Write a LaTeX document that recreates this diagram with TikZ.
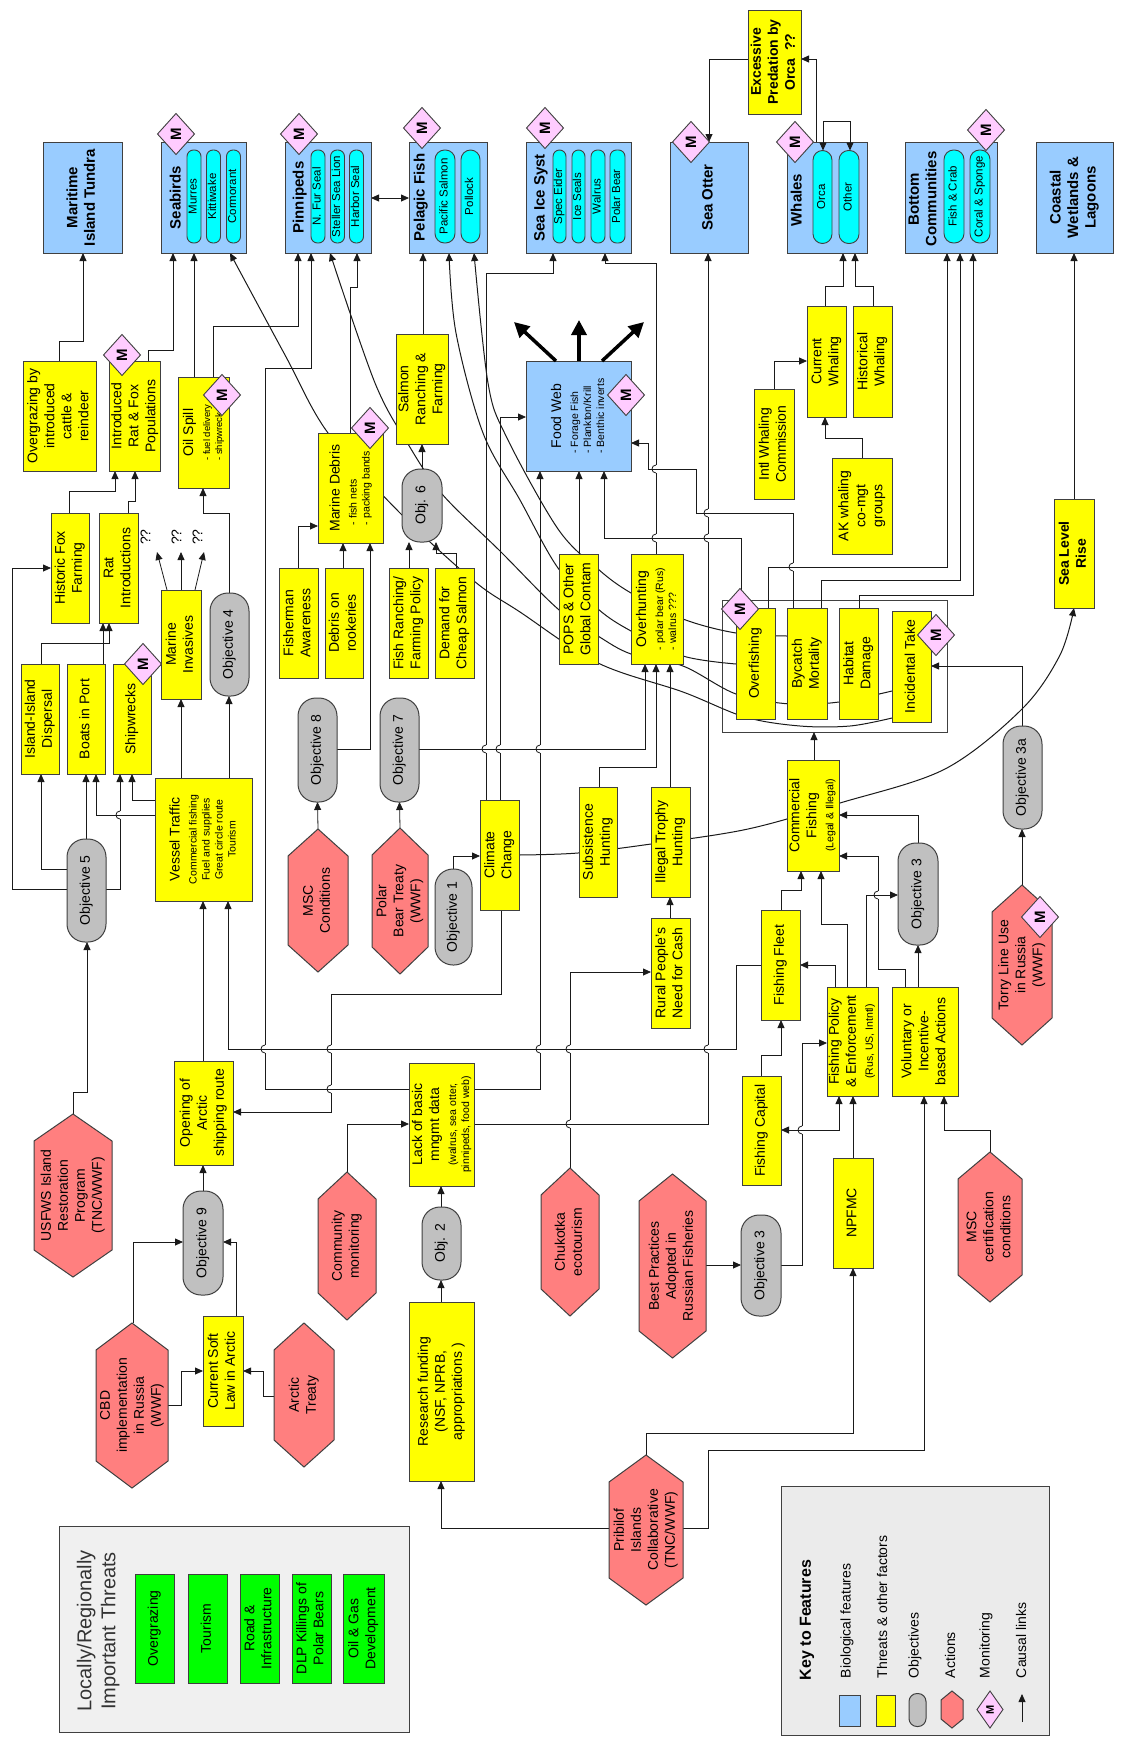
\documentclass[tikz,border=0pt]{standalone}
\usepackage{fontspec}
\usepackage{graphicx}
\setmainfont{Liberation Sans}
\usetikzlibrary{arrows.meta,backgrounds}

\definecolor{biof}{HTML}{99CCFF}
\definecolor{thrf}{HTML}{FFFF00}
\definecolor{objf}{HTML}{C0C0C0}
\definecolor{actf}{HTML}{FF7F7F}
\definecolor{monf}{HTML}{FFCCFF}
\definecolor{spf}{HTML}{00FFFF}
\definecolor{locf}{HTML}{00FF00}
\definecolor{edge}{HTML}{404040}
\definecolor{wire}{HTML}{1A1A1A}
\definecolor{panelA}{HTML}{F0F0F0}
\definecolor{panelB}{HTML}{EBEBEB}

\newcommand\ftx{\fontsize{14}{17}\selectfont}
\newcommand\fpl{\fontsize{11.5}{13}\selectfont}
\newcommand\fsml{\fontsize{10.5}{13}\selectfont}
\newcommand\fxs{\fontsize{9.5}{12}\selectfont}
\newcommand\fbld{\bfseries\fontsize{15}{17.5}\selectfont}
\newcommand\fmon{\bfseries\fontsize{15}{15}\selectfont}

% text turned a quarter turn anticlockwise
\newcommand\rt[1]{\rotatebox{90}{\begin{tabular}{@{}c@{}}#1\end{tabular}}}
% title line followed by a smaller left-aligned list
\newcommand\rtl[2]{\rotatebox{90}{\begin{tabular}{@{}c@{}}#1\\{\fsml\begin{tabular}[t]{@{}l@{}}#2\end{tabular}}\end{tabular}}}
% the same with a still smaller list
\newcommand\rtls[2]{\rotatebox{90}{\begin{tabular}{@{}c@{}}#1\\{\fxs\begin{tabular}[t]{@{}l@{}}#2\end{tabular}}\end{tabular}}}
% title followed by smaller centred lines
\newcommand\rtc[2]{\rotatebox{90}{\begin{tabular}{@{}c@{}}#1\\{\fsml\begin{tabular}[t]{@{}c@{}}#2\end{tabular}}\end{tabular}}}

% hop of a vertical wire over a horizontal one at (#1,#2)
\newcommand\hop[2]{%
  \fill[white] ({#1-1.5},{#2-4}) rectangle ({#1+1.5},{#2+4});
  \draw[wirel] ({#1-2},#2) -- ({#1+2},#2);
  \draw[wirel] (#1,{#2+4}) .. controls ({#1-5.3},{#2+4}) and ({#1-5.3},{#2-4}) .. (#1,{#2-4});}

% action hexagon: name, x, y, width, height, point depth, text
\newcommand\hexnode[7]{%
  \filldraw[hexdraw] ({#2-#4/2},{#3-#5/2+#6}) -- (#2,{#3-#5/2}) -- ({#2+#4/2},{#3-#5/2+#6})
     -- ({#2+#4/2},{#3+#5/2-#6}) -- (#2,{#3+#5/2}) -- ({#2-#4/2},{#3+#5/2-#6}) -- cycle;
  \node[font=\ftx,minimum width=#4,minimum height=#5] (#1) at (#2,#3) {#7};}

% monitoring diamond: name, x, y, half width, half height
\newcommand\mdia[5]{%
  \filldraw[mdraw] (#2,{#3-#5}) -- ({#2+#4},#3) -- (#2,{#3+#5}) -- ({#2-#4},#3) -- cycle;
  \node[font=\fmon] (#1) at (#2,#3) {\rotatebox{90}{M}};}

\begin{document}
\begin{tikzpicture}[x=1pt,y=-1pt,
  every node/.style={inner sep=0pt,outer sep=0pt},
  box/.style={draw=edge,line width=1pt,font=\ftx},
  bio/.style={box,fill=biof},
  thr/.style={box,fill=thrf},
  obj/.style={box,fill=objf,rounded corners=18pt},
  grn/.style={box,fill=locf},
  pill/.style={draw=edge,line width=0.9pt,fill=spf,font=\fpl,rounded corners=6.5pt},
  wpill/.style={pill,rounded corners=9.5pt},
  sz/.style 2 args={minimum width=#1,minimum height=#2},
  hexdraw/.style={draw=edge,line width=1pt,fill=actf},
  mdraw/.style={draw=edge,line width=0.9pt,fill=monf},
  wirel/.style={draw=wire,line width=0.8pt},
  arr/.style={wirel,-{Triangle[length=8pt,width=7pt]}},
  curv/.style={arr,line width=1pt},
  darr/.style={wirel,{Triangle[length=8pt,width=7pt]}-{Triangle[length=8pt,width=7pt]}},
  fat/.style={draw=black,line width=3.5pt,-{Triangle[length=15pt,width=15pt]}},
]
\useasboundingbox (0,0) rectangle (1120,1743);

\begin{scope}[on background layer]
  \fill[white] (0,0) rectangle (1120,1743);
  % frame round the fishing threats
  \node[draw=edge,line width=1pt,sz={225}{132}] (cl) at (834.5,666) {};
\end{scope}

%---------------- biological features ----------------
\node[bio,font=\fbld,sz={79}{111}] (mit) at (82.5,197.5) {\rt{Maritime\\Island Tundra}};

\node[bio,sz={85}{111}] (seab) at (203.5,197.5) {};
\node[font=\fbld] (seabt) at (177,197.5) {\rt{Seabirds}};
\node[pill,sz={14}{93}] (murr) at (194,196.5) {\rt{Murres}};
\node[pill,sz={14}{93}] (kitt) at (213.5,196.5) {\rt{Kittiwake}};
\node[pill,sz={14}{93}] (corm) at (233.5,196.5) {\rt{Cormorant}};

\node[bio,sz={86}{111}] (pinn) at (328,197.5) {};
\node[font=\fbld] (pinnt) at (300,197.5) {\rt{Pinnipeds}};
\node[pill,sz={14}{93}] (nfs) at (318,196.5) {\rt{N. Fur Seal}};
\node[pill,sz={14}{93}] (ssl) at (337.5,196.5) {\rt{Steller Sea Lion}};
\node[pill,sz={14}{93}] (hbs) at (356.5,196.5) {\rt{Harbor Seal}};

\node[bio,sz={78}{111}] (pel) at (448,197.5) {};
\node[font=\fbld] (pelt) at (421,197.5) {\rt{Pelagic Fish}};
\node[wpill,sz={20}{93}] (psal) at (445,196.5) {\rt{Pacific Salmon}};
\node[wpill,sz={19}{93}] (poll) at (470.5,196.5) {\rt{Pollock}};

\node[bio,sz={105}{111}] (sice) at (578.5,197.5) {};
\node[font=\fbld] (sicet) at (541,198) {\rt{Sea Ice Syst}};
\node[pill,sz={13}{93}] (eid) at (559.5,196.5) {\rt{Spec Eider}};
\node[pill,sz={13}{93}] (ices) at (578.5,196.5) {\rt{Ice Seals}};
\node[pill,sz={14}{93}] (walr) at (598,196.5) {\rt{Walrus}};
\node[pill,sz={15}{93}] (pbear) at (617.5,196.5) {\rt{Polar Bear}};

\node[bio,font=\fbld,sz={78}{111}] (sot) at (709,197.5) {\rt{Sea Otter}};

\node[bio,sz={80}{111}] (wh) at (827,197.5) {};
\node[font=\fbld] (wht) at (798,200) {\rt{Whales}};
\node[wpill,sz={19}{93}] (orca) at (822.5,197) {\rt{Orca}};
\node[wpill,sz={20}{93}] (other) at (849,197) {\rt{Other}};

\node[bio,sz={92}{111}] (bc) at (951,197.5) {};
\node[font=\fbld] (bct) at (924,199) {\rt{Bottom\\Communities}};
\node[wpill,sz={20}{93}] (fcrab) at (954,196.5) {\rt{Fish \& Crab}};
\node[wpill,sz={20}{93}] (coral) at (980,196.5) {\rt{Coral \& Sponge}};

\node[bio,font=\fbld,sz={77}{111}] (coast) at (1074.5,197.5) {\rt{Coastal\\Wetlands \&\\Lagoons}};

\node[bio,sz={105}{110}] (fw) at (578.5,416) {\rtl{Food Web}{- Forage Fish\\- Plankton/Krill\\- Benthic inverts}};

%---------------- threats and other factors ----------------
\node[thr,font=\bfseries\ftx,sz={53}{104}] (exc) at (774.5,62) {\rt{Excessive\\Predation by\\Orca\ \ ??}};
\node[thr,sz={73}{110}] (ovg) at (59.5,416) {\rt{Overgrazing by\\introduced\\cattle \&\\reindeer}};
\node[thr,sz={50}{110}] (ratfox) at (135,416) {\rt{Introduced\\Rat \& Fox\\Populations}};
\node[thr,sz={51}{111}] (oil) at (203.5,432.5) {\rtls{Oil Spill}{- fuel delivery\\- shipwreck}};
\node[thr,sz={38}{110}] (hfox) at (70,568) {\rt{Historic Fox\\Farming}};
\node[thr,sz={39}{110}] (rint) at (118.5,568) {\rt{Rat\\Introductions}};
\node[thr,sz={38}{110}] (isl) at (40,719) {\rt{Island-Island\\Dispersal}};
\node[thr,sz={38}{110}] (boat) at (86,719) {\rt{Boats in Port}};
\node[thr,sz={38}{110}] (ship) at (132,719) {\rt{Shipwrecks}};
\node[thr,sz={40}{109}] (inv) at (181,644.5) {\rt{Marine\\Invasives}};
\node[thr,sz={97}{123}] (ves) at (203.5,839.5) {\rtc{Vessel Traffic}{Commercial fishing\\Fuel and supplies\\Great circle route\\Tourism}};
\node[thr,sz={39}{110}] (fsh) at (298.5,623) {\rt{Fisherman\\Awareness}};
\node[thr,sz={38}{110}] (rook) at (344,623) {\rt{Debris on\\rookeries}};
\node[thr,sz={65}{110}] (md) at (350.5,488) {\rtl{Marine Debris}{- fish nets\\- packing bands}};
\node[thr,sz={52}{110}] (salm) at (422,389) {\rt{Salmon\\Ranching \&\\Farming}};
\node[thr,sz={39}{110}] (frp) at (408.5,623) {\rt{Fish Ranching/\\Farming Policy}};
\node[thr,sz={39}{110}] (dem) at (454.5,623) {\rt{Demand for\\Cheap Salmon}};
\node[thr,sz={39}{110}] (pops) at (578.5,609) {\rt{POPS \& Other\\Global Contam}};
\node[thr,sz={52}{110}] (ovh) at (657,609) {\rtl{Overhunting}{- polar bear (Rus)\\- walrus ???}};
\node[thr,sz={39}{110}] (clim) at (499.5,855) {\rt{Climate\\Change}};
\node[thr,sz={38}{110}] (sub) at (598,842) {\rt{Subsistence\\Hunting}};
\node[thr,sz={39}{110}] (ill) at (670.5,842) {\rt{Illegal Trophy\\Hunting}};
\node[thr,sz={39}{110}] (rur) at (670.5,973) {\rt{Rural People's\\Need for Cash}};
\node[thr,sz={39}{111}] (ovf) at (755.5,663.5) {\rt{Overfishing}};
\node[thr,sz={40}{111}] (byc) at (807,663.5) {\rt{Bycatch\\Mortality}};
\node[thr,sz={39}{111}] (hab) at (858.5,663.5) {\rt{Habitat\\Damage}};
\node[thr,sz={39}{111}] (inc) at (911.5,666.5) {\rt{Incidental Take}};
\node[thr,sz={52}{111}] (cf) at (813,815.5) {\rtc{Commercial\\Fishing}{(Legal \& Illegal)}};
\node[thr,sz={39}{110}] (flt) at (780.5,965) {\rt{Fishing Fleet}};
\node[thr,sz={39}{109}] (cap) at (761.5,1130.5) {\rt{Fishing Capital}};
\node[thr,sz={51}{109}] (fpo) at (852.5,1041.5) {\rtc{Fishing Policy\\\& Enforcement}{(Rus, US, Intntl)}};
\node[thr,sz={66}{109}] (vol) at (925,1041.5) {\rt{Voluntary or\\Incentive-\\based Actions}};
\node[thr,sz={40}{110}] (npf) at (853,1213) {\rt{NPFMC}};
\node[thr,sz={40}{110}] (iwc) at (774,444) {\rt{Intl Whaling\\Commission}};
\node[thr,sz={39}{111}] (curw) at (826.5,361.5) {\rt{Current\\Whaling}};
\node[thr,sz={39}{111}] (hisw) at (872.5,361.5) {\rt{Historical\\Whaling}};
\node[thr,sz={60}{96}] (akw) at (862,506) {\rt{AK whaling\\co-mgt\\groups}};
\node[thr,font=\bfseries\ftx,sz={40}{109}] (slr) at (1074,553.5) {\rt{Sea Level\\Rise}};
\node[thr,sz={59}{104}] (opn) at (203.5,1113) {\rt{Opening of\\Arctic\\shipping route}};
\node[thr,sz={65}{123}] (lack) at (441.5,1124.5) {\rtc{Lack of basic\\mngmt data}{(walrus, sea otter,\\pinnipeds, food web)}};
\node[thr,sz={65}{179}] (res) at (441.5,1391.5) {\rt{Research funding\\(NSF, NPRB,\\appropriations )}};
\node[thr,sz={40}{110}] (sft) at (223,1371) {\rt{Current Soft\\Law in Arctic}};

%---------------- objectives ----------------
\node[obj,sz={39}{103}] (ob5) at (86.5,890.5) {\rt{Objective 5}};
\node[obj,sz={39}{103}] (ob4) at (229.5,644.5) {\rt{Objective 4}};
\node[obj,sz={39}{104}] (ob8) at (317.5,750) {\rt{Objective 8}};
\node[obj,sz={40}{73}] (ob6) at (422,505.5) {\rt{Obj. 6}};
\node[obj,sz={39}{104}] (ob7) at (399.5,750) {\rt{Objective 7}};
\node[obj,sz={37}{96}] (ob1) at (453.5,917) {\rt{Objective 1}};
\node[obj,sz={40}{104}] (ob9) at (203,1243) {\rt{Objective 9}};
\node[obj,sz={39}{73}] (ob2) at (441.5,1243.5) {\rt{Obj. 2}};
\node[obj,sz={40}{101}] (ob3b) at (761,1265.5) {\rt{Objective 3}};
\node[obj,sz={40}{102}] (ob3a) at (918,894) {\rt{Objective 3}};
\node[obj,sz={39}{103}] (ob3x) at (1022.5,777.5) {\rt{Objective 3a}};

%---------------- actions ----------------
\hexnode{msc}{318}{900.5}{60}{143}{27}{\rt{MSC\\Conditions}}
\hexnode{pbt}{400}{901}{56}{146}{27}{\rt{Polar\\Bear Treaty\\(WWF)}}
\hexnode{usf}{73}{1195.5}{78}{163}{27}{\rt{USFWS Island\\Restoration\\Program\\(TNC/WWF)}}
\hexnode{com}{347}{1246}{58}{148}{27}{\rt{Community\\monitoring}}
\hexnode{chu}{570}{1242}{58}{148}{27}{\rt{Chukotka\\ecotourism}}
\hexnode{bpr}{672.5}{1266}{67}{184}{27}{\rt{Best Practices\\Adopted in\\Russian Fisheries}}
\hexnode{cbd}{132}{1405.5}{72}{165}{27}{\rt{CBD\\implementation\\in Russia\\(WWF)}}
\hexnode{arc}{304}{1395}{60}{144}{27}{\rt{Arctic\\Treaty}}
\hexnode{pri}{646}{1530}{74}{150}{27}{\rt{Pribilof\\Islands\\Collaborative\\(TNC/WWF)}}
\hexnode{msccert}{990}{1227}{64}{150}{27}{\rt{MSC\\certification\\conditions}}
\hexnode{tor}{1022}{965}{60}{160}{27}{\rt{Torry Line Use\\in Russia\\(WWF)}}

%---------------- monitoring marks ----------------
\mdia{m1}{176}{134}{18.5}{20.5}
\mdia{m2}{299}{134}{18.5}{20.5}
\mdia{m3}{422}{128}{18.5}{20.5}
\mdia{m4}{545}{128}{18.5}{20.5}
\mdia{m5}{691}{142}{18.5}{20.5}
\mdia{m6}{795}{142}{18.5}{20.5}
\mdia{m7}{986}{130}{18.5}{20.5}
\mdia{m8}{122}{355}{18.5}{20.5}
\mdia{m9}{222}{395}{18.5}{20.5}
\mdia{m10}{370}{428}{18.5}{20.5}
\mdia{m11}{626}{395}{18.5}{20.5}
\mdia{m12}{143}{664}{18.5}{20.5}
\mdia{m13}{740}{609}{18.5}{20.5}
\mdia{m14}{936}{635}{18.5}{20.5}
\mdia{m15}{1040}{917}{18.5}{20.5}

%---------------- unknown invasive effects ----------------
\coordinate (q1) at (157,552);
\coordinate (q2) at (181,552);
\coordinate (q3) at (204,552);
\node[font=\ftx] (qq1) at (147,537) {\rt{??}};
\node[font=\ftx] (qq2) at (178,537) {\rt{??}};
\node[font=\ftx] (qq3) at (199,537) {\rt{??}};

%---------------- food web outflow ----------------
\coordinate (fwa) at (514,322);
\coordinate (fwb) at (579,320);
\coordinate (fwc) at (644,322);
\draw[fat] (fw.north -| 556,0) -- (fwa);
\draw[fat] (fw.north -| 579,0) -- (fwb);
\draw[fat] (fw.north -| 602,0) -- (fwc);

% orca and other whales
\draw[darr] (orca.north -| 823,0) |- (850,121) -- (other.north -| 850,0);

%---------------- panel of local threats ----------------
\node[draw=edge,line width=1pt,fill=panelA,sz={350}{206}] (pnlA) at (234,1629) {};
\node[font=\fontsize{20}{24}\selectfont,text=black!80] (pnlAt) at (98.5,1631) {\rt{Locally/Regionally\\Important Threats}};
\node[grn,sz={39}{109}] (g1) at (154.5,1628.5) {\rt{Overgrazing}};
\node[grn,sz={39}{109}] (g2) at (207.5,1628.5) {\rt{Tourism}};
\node[grn,sz={39}{109}] (g3) at (259.5,1628.5) {\rt{Road \&\\Infrastructure}};
\node[grn,sz={39}{109}] (g4) at (311.5,1628.5) {\rt{DLP Killings of\\Polar Bears}};
\node[grn,sz={41}{109}] (g5) at (363.5,1628.5) {\rt{Oil \& Gas\\Development}};

%---------------- key ----------------
\node[draw=edge,line width=1pt,fill=panelB,sz={268}{249}] (pnlB) at (915,1610.5) {};
\node[font=\bfseries\fontsize{16}{16}\selectfont,anchor=south] (keyt) at (807,1680) {\rotatebox{90}{Key to Features}};
\node[bio,sz={21}{31}] (kb) at (849.5,1710.5) {};
\node[font=\ftx,anchor=south] (kbt) at (847,1678) {\rotatebox{90}{Biological features}};
\node[thr,sz={19}{31}] (ky) at (885.5,1710.5) {};
\node[font=\ftx,anchor=south] (kyt) at (882,1678) {\rotatebox{90}{Threats \& other factors}};
\node[obj,rounded corners=8pt,sz={17}{33}] (ko) at (917.5,1710) {};
\node[font=\ftx,anchor=south] (kot) at (915,1678) {\rotatebox{90}{Objectives}};
\hexnode{ka}{952}{1709.5}{22}{37}{9}{}
\node[font=\ftx,anchor=south] (kat) at (950,1678) {\rotatebox{90}{Actions}};
\filldraw[mdraw] (990,1691) -- (1003,1709.5) -- (990,1728) -- (977,1709.5) -- cycle;
\node[font=\bfseries\fontsize{11}{11}\selectfont] (km) at (990,1709.5) {\rotatebox{90}{M}};
\node[font=\ftx,anchor=south] (kmt) at (986,1678) {\rotatebox{90}{Monitoring}};
\coordinate (kl1) at (1022,1722);
\coordinate (kl2) at (1022,1694);
\draw[arr] (kl1) -- (kl2);
\node[font=\ftx,anchor=south] (klt) at (1021,1678) {\rotatebox{90}{Causal links}};

%---------------- causal links ----------------
\begin{scope}[on background layer]
% tundra, seabirds, pinnipeds
\draw[arr] (ovg.north -| 59,0) |- (83,341) -- (mit.south -| 83,0);
\draw[arr] (ratfox.north -| 148,0) |- (173,350) -- (seab.south -| 173,0);
\draw[arr] (oil.north -| 194,0) -- (seab.south -| 194,0);
\draw[arr] (oil.north -| 213,0) |- (298,326) -- (pinn.south -| 298,0);
\draw[arr] (lack.west |- 0,1089) -| (265,368) -| (pinn.south -| 311,0);
\draw[arr] (md.north -| 350,0) |- (357,287) -- (pinn.south -| 357,0);
\draw[darr] (pinn.east |- 0,198) -- (pel.west |- 0,198);
\draw[arr] (salm.north -| 423,0) -- (pel.south -| 423,0);
% climate, sea ice, sea otter, whales
\draw[arr] (clim.north -| 486,0) |- (553,273) -- (sice.south -| 553,0);
\draw[arr] (clim.north -| 500,0) |- (fw.west |- 0,417);
\draw[arr] (ovh.north -| 656,0) |- (605,263) -- (sice.south -| 605,0);
\draw[arr] (lack.east |- 0,1124) -| (sot.south -| 708,0);
\draw[arr] (exc.west |- 0,59) -| (sot.north -| 709,0);
\draw[arr] (wh.north -| 816,0) |- (exc.east |- 0,59);
\draw[arr] (curw.north -| 825,0) |- (843,286) -- (wh.south -| 843,0);
\draw[arr] (hisw.north -| 873,0) |- (855,286) -- (wh.south -| 855,0);
\draw[arr] (iwc.north -| 774,0) |- (curw.west |- 0,361);
\draw[arr] (akw.north -| 862,0) |- (825,438) -- (curw.south -| 825,0);
% bottom communities and coast
\draw[arr] (ovf.north -| 768,0) |- (947,567) -- (bc.south -| 947,0);
\draw[arr] (byc.north -| 821,0) |- (960,580) -- (bc.south -| 960,0);
\draw[arr] (hab.north -| 859,0) |- (973,595) -- (bc.south -| 973,0);
\draw[arr] (slr.north -| 1074,0) -- (coast.south -| 1074,0);
% food web
\draw[arr] (byc.north -| 793,0) |- (696,513) |- (648,469) |- (fw.east |- 0,443);
\draw[arr] (cl.north -| 741,0) |- (604,538) -- (fw.south -| 604,0);
\draw[arr] (pops.north -| 579,0) -- (fw.south -| 579,0);
\draw[arr] (lack.east |- 0,1089) -| (fw.south -| 540,0);
% introduced species and shipping
\draw[arr] (hfox.north -| 69,0) |- (115,491) -- (ratfox.south -| 115,0);
\draw[arr] (rint.north -| 128,0) |- (135,501) -- (ratfox.south -| 135,0);
\draw[arr] (ob4.north -| 229,0) |- (203,513) -- (oil.south -| 203,0);
\draw[arr] (ves.north -| 229,0) -- (ob4.south -| 229,0);
\draw[arr] (ves.north -| 181,0) -- (inv.south -| 181,0);
\draw[arr] (inv.north -| 167,0) -- (q1);
\draw[arr] (inv.north -| 181,0) -- (q2);
\draw[arr] (inv.north -| 195,0) -- (q3);
\draw[arr] (ves.west |- 0,800) -| (ship.south -| 132,0);
\draw[arr] (ves.west |- 0,815) -| (boat.south -| 96,0);
\draw[arr] (ob5.north -| 86,0) -- (boat.south -| 86,0);
\draw[arr] (ob5.east |- 0,889) -| (ship.south -| 120,0);
\draw[arr] (ob5.west |- 0,869) -| (isl.south -| 41,0);
\draw[arr] (ob5.west |- 0,889) -| (12,568) -- (hfox.west |- 0,568);
\draw[arr] (isl.north -| 41,0) |- (109,643) -- (rint.south -| 109,0);
\draw[arr] (boat.north -| 103,0) -- (rint.south -| 103,0);
% marine debris and salmon
\draw[arr] (fsh.north -| 298,0) |- (md.west |- 0,526);
\draw[arr] (rook.north -| 343,0) -- (md.south -| 343,0);
\draw[arr] (ob8.east |- 0,749) -| (md.south -| 370,0);
\draw[arr] (msc.north) -- (ob8.south);
\draw[arr] (pbt.north) -- (ob7.south);
\draw[arr] (ob7.east |- 0,749) -| (ovh.south -| 645,0);
\draw[arr] (frp.north -| 409,0) -- (ob6.south -| 409,0);
\draw[arr] (dem.north -| 456,0) |- (436,553) -- (ob6.south -| 436,0);
\draw[arr] (ob6.north) -- (salm.south);
% hunting, climate, shipping routes
\draw[arr] (sub.north -| 599,0) |- (656,767) -- (ovh.south -| 656,0);
\draw[arr] (ill.north -| 670,0) -- (ovh.south -| 670,0);
\draw[arr] (rur.north -| 670,0) -- (ill.south -| 670,0);
\draw[arr] (chu.north) |- (rur.west |- 0,972);
\draw[arr] (ob1.north -| 453,0) |- (clim.west |- 0,856);
\draw[arr] (clim.south -| 501,0) |- (331,994) |- (opn.east |- 0,1112);
\draw[arr] (flt.west |- 0,965) -| (736,1049) -| (ves.south -| 228,0);
\draw[arr] (opn.north -| 203,0) -- (ves.south -| 203,0);
\draw[arr] (ob9.north -| 203,0) -- (opn.south -| 203,0);
\draw[arr] (usf.north) |- (87,1092) -- (ob5.south -| 87,0);
\draw[arr] (cbd.north -| 133,0) |- (ob9.west |- 0,1242);
\draw[arr] (sft.north -| 236,0) |- (ob9.east |- 0,1242);
\draw[arr] (cbd.east |- 0,1405) -| (181,1371) -- (sft.west |- 0,1371);
\draw[arr] (arc.west |- 0,1396) -| (263,1371) -- (sft.east |- 0,1371);
\draw[arr] (com.north) |- (lack.west |- 0,1124);
\draw[arr] (ob2.north -| 441,0) -- (lack.south -| 441,0);
\draw[arr] (res.north -| 441,0) -- (ob2.south -| 441,0);
% fisheries management
\draw[arr] (pri.west |- 0,1528) -| (res.south -| 441,0);
\draw[arr] (pri.north) |- (853,1433) -- (npf.south -| 853,0);
\draw[arr] (pri.east |- 0,1528) -| (708,1450) -| (vol.south -| 924,0);
\draw[arr] (msccert.north) |- (944,1130) -- (vol.south -| 944,0);
\draw[arr] (npf.north -| 853,0) -- (fpo.south -| 853,0);
\draw[darr] (cap.east |- 0,1130) -| (fpo.south -| 839,0);
\draw[arr] (ob3b.east |- 0,1265) -| (802,1043) -- (fpo.west |- 0,1043);
\draw[arr] (bpr.east |- 0,1265) -- (ob3b.west |- 0,1265);
\draw[arr] (cap.north -| 761,0) |- (781,1055) -- (flt.south -| 781,0);
\draw[arr] (flt.north -| 781,0) |- (801,890) -- (cf.south -| 801,0);
\draw[arr] (fpo.north -| 835,0) |- (flt.east |- 0,965);
\draw[arr] (fpo.north -| 847,0) |- (821,924) -- (cf.south -| 821,0);
\draw[arr] (fpo.north -| 866,0) |- (ob3a.west |- 0,895);
\draw[arr] (vol.north -| 905,0) |- (878,969) |- (cf.east |- 0,856);
\draw[arr] (vol.north -| 918,0) -- (ob3a.south -| 918,0);
\draw[arr] (ob3a.north -| 918,0) |- (cf.east |- 0,815);
\draw[arr] (cf.north -| 814,0) -- (cl.south -| 814,0);
\draw[arr] (ob3x.north -| 1022,0) |- (inc.east |- 0,666);
\draw[arr] (tor.north -| 1022,0) -- (ob3x.south -| 1022,0);
% long curved links
\draw[curv] plot[smooth,tension=0.55] coordinates {(inc.west |- 0,718) (850,726) (800,726) (745,717) (683,692) (598,663) (520,612) (474,581) (401,514) (328,433) (285,355) (seab.south -| 230,0)};
\draw[curv] plot[smooth,tension=0.55] coordinates {(inc.west |- 0,691) (839,702) (790,704) (736,694) (683,666) (631,654) (598,636) (558,609) (500,551) (442,494) (408,444) (375,383) (pinn.south -| 330,0)};
\draw[curv] plot[smooth,tension=0.55] coordinates {(ovf.west |- 0,664) (683,656) (631,631) (598,609) (558,568) (520,500) (483,433) (456,333) (pel.south -| 449,0)};
\draw[curv] plot[smooth,tension=0.55] coordinates {(byc.west |- 0,636) (736,633) (683,619) (631,593) (598,569) (558,529) (506,436) (488,383) (pel.south -| 474,0)};
\draw[curv] plot[smooth,tension=0.55] coordinates {(clim.east |- 0,855) (578,853) (651,844) (748,829) (840,803) (945,769) (1022,709) (1060,655) (slr.south -| 1074,0)};
% hops where vertical wires pass over horizontal ones
\hop{120}{815}
\hop{265}{1049}
\hop{331}{1049}
\hop{331}{1089}
\hop{486}{749}
\hop{500}{749}
\hop{540}{1049}
\hop{540}{749}
\hop{570}{1124}
\hop{570}{1049}
\hop{656}{538}
\hop{656}{469}
\hop{708}{1049}
\hop{708}{538}
\hop{708}{513}
\hop{793}{567}
\hop{802}{1130}
\hop{878}{895}
\end{scope}
\end{tikzpicture}
\end{document}
